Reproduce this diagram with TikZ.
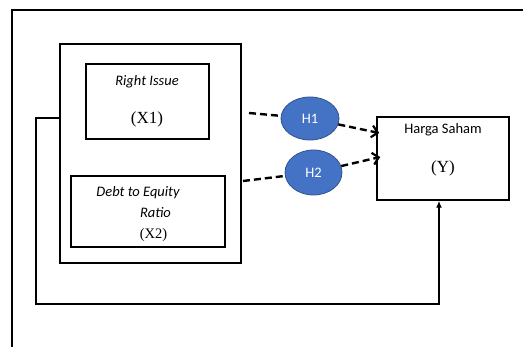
\documentclass[tikz,border=0pt]{standalone}
\usepackage{fontspec}
\setmainfont{Liberation Serif}
\newfontfamily\calibfont{Carlito}
\usetikzlibrary{arrows.meta,shapes.geometric}
\definecolor{hfill}{RGB}{68,114,196}
\definecolor{hdraw}{RGB}{47,82,143}
\begin{document}
\begin{tikzpicture}[x=1pt,y=-1pt,
  boxst/.style={draw,line width=1.5pt,inner sep=0pt},
  hyp/.style={ellipse,fill=hfill,draw=hdraw,line width=0.8pt,inner sep=0pt,text=white,font=\calibfont\fontsize{14.5}{17}\selectfont},
  lbl/.style={inner sep=0pt,font=\calibfont\itshape\fontsize{14.5}{17}\selectfont},
  lblup/.style={inner sep=0pt,font=\calibfont\fontsize{14.5}{17}\selectfont},
  var/.style={inner sep=0pt,font=\fontsize{17}{19}\selectfont},
  dsh/.style={line width=2.4pt,dash pattern=on 7pt off 4pt},
  fb/.style={line width=1.3pt}]
\useasboundingbox (0,0) rectangle (523,347);
\fill[white] (0,0) rectangle (523,347);
\draw[line width=1.5pt] (12,347) -- (12,10) -- (523,10);
% boxes
\node[boxst,minimum width=181pt,minimum height=219pt] (big) at (150.5,153.5) {};
\node[boxst,minimum width=123pt,minimum height=75pt] (ri) at (147.5,101.5) {};
\node[boxst,minimum width=154pt,minimum height=71pt] (der) at (148,211.5) {};
\node[boxst,minimum width=132pt,minimum height=83pt] (harga) at (443,158.5) {};
% texts
\node[lbl] (tri) at (147,82) {Right Issue};
\node[var] (tx1) at (147,119) {(X1)};
\node[lbl] (tder) at (138,193) {Debt to Equity};
\node[lbl] (trat) at (155.5,213) {Ratio};
\node[var,font=\fontsize{14.5}{17}\selectfont] (tx2) at (153.5,235) {(X2)};
\node[lblup] (thar) at (443,130) {Harga Saham};
\node[var] (ty) at (443,168) {(Y)};
% hypotheses
\node[hyp,minimum width=58pt,minimum height=43pt] (h1) at (310,118.5) {H1};
\node[hyp,minimum width=57pt,minimum height=45pt] (h2) at (313.5,172.5) {H2};
% dashed connectors
\coordinate (s1) at (249,113);
\coordinate (s2) at (243,181);
\draw[dsh] (s1) -- (h1);
\draw[dsh] (s2) -- (h2);
\draw[dsh,-{Straight Barb[length=6pt,width=12pt,line width=2.2pt]}] (h1) -- ([yshift=25.5pt,xshift=3pt]harga.west);
\draw[dsh,-{Straight Barb[length=6pt,width=12pt,line width=2.2pt]}] (h2) -- ([yshift=1.5pt,xshift=4pt]harga.west);
% feedback
\coordinate (fa) at (36,118);
\coordinate (fbc) at (36,304);
\draw[fb,-{Latex[length=7pt,width=6pt]}] ([yshift=35.5pt]big.west) -- (fa) -- (fbc) -| ([xshift=-4pt]harga.south);
\end{tikzpicture}
\end{document}
